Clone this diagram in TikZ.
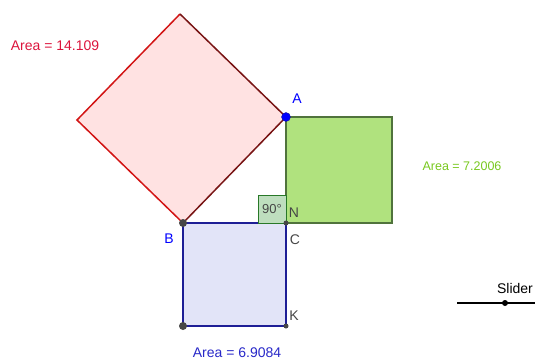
\documentclass[tikz,border=0pt]{standalone}
\usepackage{fontspec}
\setmainfont{Liberation Sans}
\definecolor{redfill}{RGB}{255,226,226}
\definecolor{redline}{RGB}{210,20,20}
\definecolor{darkred}{RGB}{120,20,20}
\definecolor{greenfill}{RGB}{176,226,126}
\definecolor{greenline}{RGB}{80,115,60}
\definecolor{bluefill}{RGB}{226,228,248}
\definecolor{blueline}{RGB}{30,30,150}
\definecolor{areared}{RGB}{220,20,60}
\definecolor{areagreen}{RGB}{120,200,30}
\definecolor{areablue}{RGB}{40,40,200}
\definecolor{ptgray}{RGB}{70,70,70}
\definecolor{anglefill}{RGB}{190,222,190}
\definecolor{angleline}{RGB}{40,120,40}
\begin{document}
\begin{tikzpicture}[x=1pt,y=-1pt,
  lbl/.style={font=\fontsize{14}{16}\selectfont},
  bigpt/.style={circle,fill=ptgray,inner sep=0pt,minimum size=8pt},
  smallpt/.style={circle,fill=ptgray,inner sep=0pt,minimum size=5pt},
  edge/.style={line width=1.5pt}]
\useasboundingbox (0,0) rectangle (535,360);
% key points
\coordinate (A) at (286,117);
\coordinate (B) at (183,223);
\coordinate (C) at (286,223);
\coordinate (K) at (286,326);
\coordinate (L) at (183,326);
\coordinate (T) at (180,14);
\coordinate (W) at (77,120);
\coordinate (G1) at (392,117);
\coordinate (G2) at (392,223);
% red square
\fill[redfill] (T) -- (A) -- (B) -- (W) -- cycle;
\draw[edge,redline] (B) -- (W) -- (T);
\draw[edge,darkred] (T) -- (A) -- (B);
% green square
\filldraw[greenfill,draw=greenline,edge] (A) -- (G1) -- (G2) -- (C) -- cycle;
% blue square
\filldraw[bluefill,draw=blueline,edge] (B) -- (C) -- (K) -- (L) -- cycle;
% right angle
\filldraw[anglefill,draw=angleline,line width=1pt] (258,195) rectangle (C);
\node[font=\fontsize{13}{15}\selectfont,text=ptgray] (ang) at (272,209) {90°};
% points
\node[circle,fill=blue,draw=blueline,inner sep=0pt,minimum size=9pt] (pA) at (A) {};
\node[bigpt] (pB) at (B) {};
\node[bigpt] (pL) at (L) {};
\node[smallpt] (pC) at (C) {};
\node[smallpt] (pK) at (K) {};
% labels
\node[lbl,text=blue] (lA) at (297,99) {A};
\node[lbl,text=blue] (lB) at (169,239) {B};
\node[lbl,text=ptgray] (lC) at (295,240) {C};
\node[lbl,text=ptgray] (lN) at (294,213) {N};
\node[lbl,text=ptgray] (lK) at (294,316) {K};
% areas
\node[lbl,text=areared] (ar) at (55,46) {Area = 14.109};
\node[font=\fontsize{12.5}{15}\selectfont,text=areagreen] (ag) at (462,166) {Area = 7.2006};
\node[lbl,text=areablue] (ab) at (237,353) {Area = 6.9084};
% slider
\coordinate (s1) at (457,303);
\coordinate (s2) at (535,303);
\draw[line width=1.5pt,black] (s1) -- (s2);
\node[circle,fill=black,inner sep=0pt,minimum size=6pt] (sp) at (505,303) {};
\node[lbl,text=black] (sl) at (515,288) {Slider};
\end{tikzpicture}
\end{document}
